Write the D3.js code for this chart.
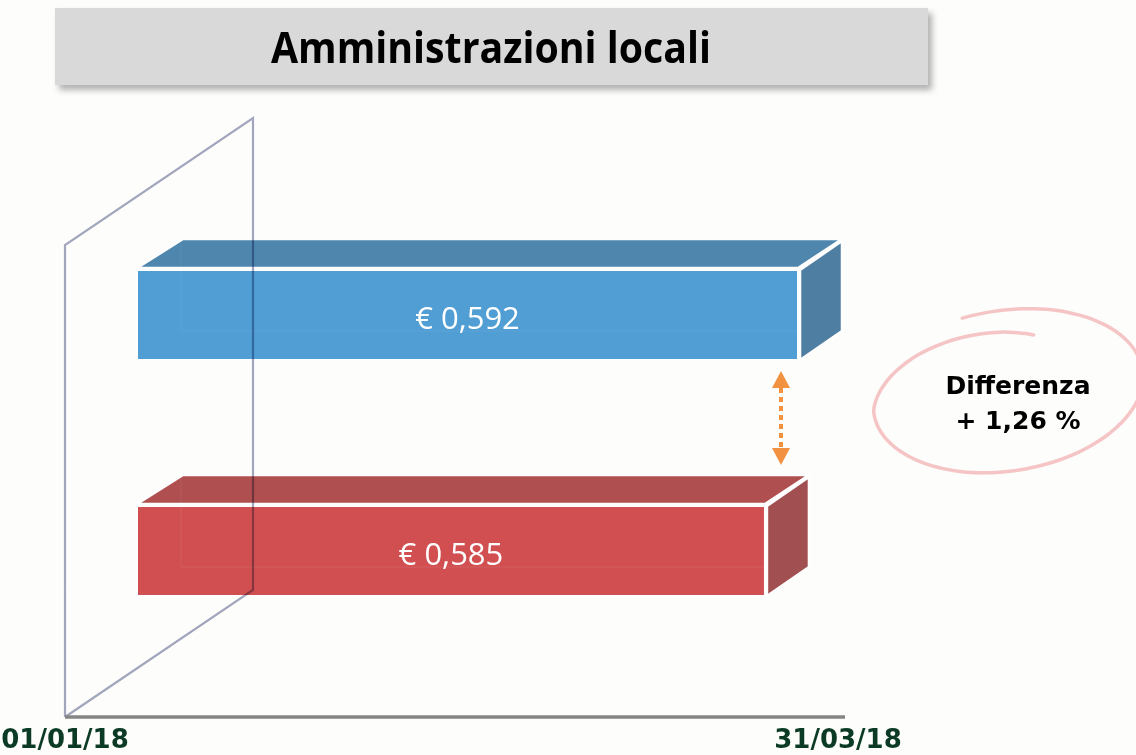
<!DOCTYPE html>
<html>
<head>
<meta charset="utf-8">
<script src="https://cdn.jsdelivr.net/npm/d3@7"></script>
<style>
  html, body { margin: 0; padding: 0; background: #fdfdfc; }
  svg { display: block; }
</style>
</head>
<body>
<svg width="1136" height="755"></svg>
<script>
// chart data
var title = "Amministrazioni locali";
var series = ["31/03/18", "01/01/18"];
var values = [0.592, 0.585];
var valueLabels = ["€ 0,592", "€ 0,585"];
var dateLabels = ["01/01/18", "31/03/18"];
var diffLines = ["Differenza", "+ 1,26 %"];

var frontColors = ["#4b9bd3", "#d04a4c"];
var topColors = ["#4a83ac", "#ae4a4b"];
var sideColors = ["#4a7aa1", "#a04a4c"];

var svg = d3.select("svg");
var parseDate = d3.timeParse("%d/%m/%y");

var defs = svg.append("defs");
var shadow = defs.append("filter")
    .attr("id", "shadow")
    .attr("x", "-5%").attr("y", "-20%")
    .attr("width", "115%").attr("height", "160%");
shadow.append("feDropShadow")
    .attr("dx", 4).attr("dy", 5)
    .attr("stdDeviation", 3)
    .attr("flood-color", "#000")
    .attr("flood-opacity", 0.3);

// title box
svg.append("rect")
    .attr("x", 55).attr("y", 8)
    .attr("width", 873).attr("height", 77)
    .attr("fill", "#d9d9d9")
    .attr("filter", "url(#shadow)");

svg.append("text")
    .attr("x", 491).attr("y", 63)
    .attr("text-anchor", "middle")
    .attr("font-family", "'Open Sans', sans-serif")
    .attr("font-weight", "bold")
    .attr("font-size", 43)
    .attr("textLength", 440)
    .attr("lengthAdjust", "spacingAndGlyphs")
    .attr("fill", "#000")
    .text(title);

// scales
var x = d3.scaleLinear().domain([0.452, 0.592]).range([137, 798]);
var y = d3.scalePoint().domain(series).range([270, 506]);
var barH = 90;
var depth = { dx: 44, dy: -29 };

var t = d3.scaleTime()
    .domain([parseDate(dateLabels[0]), parseDate(dateLabels[1])])
    .range([65, 838]);

// bars
var bars = svg.append("g").attr("class", "bars");

series.forEach(function(s, i) {
  var left = x(x.domain()[0]), right = x(values[i]), top = y(s), bottom = y(s) + barH;
  var g = bars.append("g").attr("opacity", 0.97);

  g.append("path")
      .attr("d", d3.line()([
        [left, top - 2], [right, top - 2],
        [right + depth.dx, top - 2 + depth.dy], [left + depth.dx + 2, top - 2 + depth.dy]
      ]) + "Z")
      .attr("fill", topColors[i])
      .attr("stroke", "#fff").attr("stroke-width", 2.5)
      .attr("stroke-linejoin", "round");

  g.append("path")
      .attr("d", d3.line()([
        [right + 2, top], [right + depth.dx, top + depth.dy],
        [right + depth.dx, bottom + depth.dy], [right + 2, bottom]
      ]) + "Z")
      .attr("fill", sideColors[i])
      .attr("stroke", "#fff").attr("stroke-width", 2.5)
      .attr("stroke-linejoin", "round");

  g.append("rect")
      .attr("x", left).attr("y", top)
      .attr("width", right - left).attr("height", barH)
      .attr("fill", frontColors[i])
      .attr("stroke", "#fff").attr("stroke-width", 2);

  // faint hidden back edges of the translucent box
  g.append("path")
      .attr("d", d3.line()([
        [left + depth.dx, top + depth.dy + 2], [left + depth.dx, bottom + depth.dy],
        [right, bottom + depth.dy]
      ]))
      .attr("fill", "none")
      .attr("stroke", "#fff").attr("stroke-opacity", 0.035)
      .attr("stroke-width", 2);

  g.append("text")
      .attr("x", (left + right) / 2)
      .attr("y", top + barH / 2 + 14)
      .attr("text-anchor", "middle")
      .attr("font-family", "'Open Sans', sans-serif")
      .attr("font-size", 31)
      .attr("fill", "#fff")
      .text(valueLabels[i]);
});

// wall frame, multiplied so it darkens through the bars
var wall = svg.append("g")
    .style("mix-blend-mode", "multiply")
    .attr("fill", "none")
    .attr("stroke", "#a3a7bf")
    .attr("stroke-width", 2.2);

var backX = 253, frontX = t.range()[0], rise = 127;
wall.append("path").attr("d", d3.line()([[frontX, 717], [frontX, 245], [backX, 245 - rise], [backX, 717 - rise], [frontX, 717]]));

// floor axis
svg.append("line")
    .attr("x1", t.range()[0]).attr("x2", 845)
    .attr("y1", 717).attr("y2", 717)
    .attr("stroke", "#858585")
    .attr("stroke-width", 3.5);

svg.selectAll(".date")
    .data(dateLabels)
    .enter().append("text")
    .attr("class", "date")
    .attr("x", function(d) { return t(parseDate(d)); })
    .attr("y", 748)
    .attr("text-anchor", "middle")
    .attr("font-family", "'DejaVu Sans', Verdana, sans-serif")
    .attr("font-weight", "bold")
    .attr("font-size", 26)
    .attr("fill", "#0b3b24")
    .text(function(d) { return d; });

// difference arrow
var ax = x(values[0]) - 17;
var ay0 = y(series[0]) + barH + 11, ay1 = y(series[1]) - 41;
var orange = "#f2913f";
svg.append("line")
    .attr("x1", ax).attr("x2", ax)
    .attr("y1", ay0 + 17).attr("y2", ay1 - 17)
    .attr("stroke", orange)
    .attr("stroke-width", 4)
    .attr("stroke-dasharray", "5,4");
svg.append("path")
    .attr("d", d3.line()([[ax, ay0], [ax - 9, ay0 + 17], [ax + 9, ay0 + 17]]) + "Z")
    .attr("fill", orange);
svg.append("path")
    .attr("d", d3.line()([[ax, ay1], [ax - 9, ay1 - 17], [ax + 9, ay1 - 17]]) + "Z")
    .attr("fill", orange);

// hand drawn ellipse: one stroke that spirals slightly outward and overlaps itself
var ell = svg.append("g")
    .attr("transform", "translate(1006,392) rotate(-9)")
    .attr("fill", "none")
    .attr("stroke", "#f2b6b8")
    .attr("stroke-linecap", "round");
var ellPts = d3.range(0, 396, 5).map(function(k) {
  var a = (22 - k) * Math.PI / 180;
  var f = k < 110 ? 0.72 + 0.28 * (k / 110) : 1 + 0.05 * ((k - 110) / 285);
  return [Math.sin(a) * 134 * f, -Math.cos(a) * 78 * f];
});
ell.append("path")
    .attr("d", d3.line().curve(d3.curveBasis)(ellPts))
    .attr("stroke-width", 3.5)
    .attr("stroke-opacity", 0.8);

svg.selectAll(".diff")
    .data(diffLines)
    .enter().append("text")
    .attr("class", "diff")
    .attr("x", 1018)
    .attr("y", function(d, i) { return 394 + i * 35; })
    .attr("text-anchor", "middle")
    .attr("font-family", "'DejaVu Sans', Verdana, sans-serif")
    .attr("font-weight", "bold")
    .attr("font-size", 25)
    .attr("fill", "#000")
    .text(function(d) { return d; });
</script>
</body>
</html>
